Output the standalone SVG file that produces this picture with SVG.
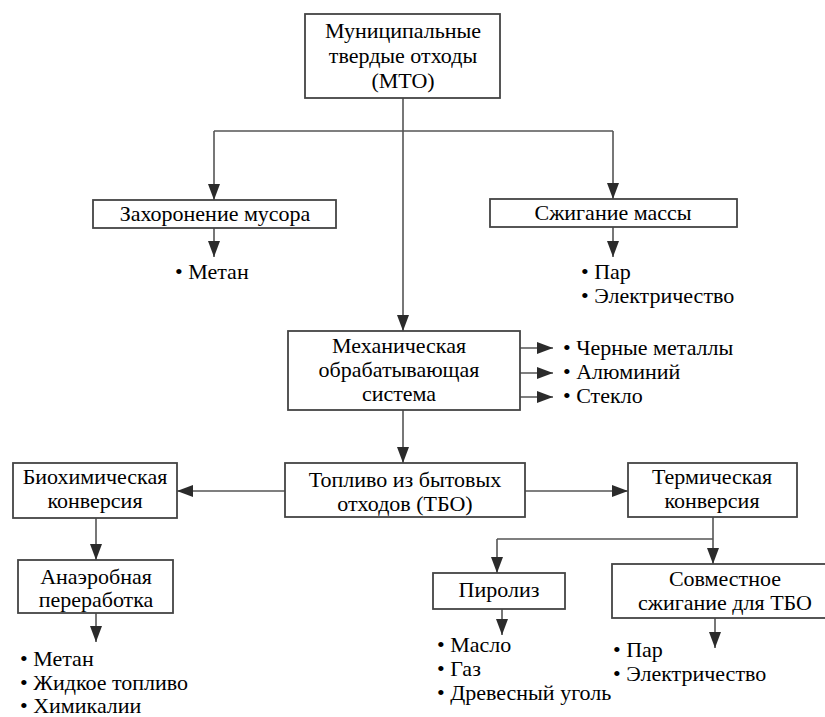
<svg xmlns="http://www.w3.org/2000/svg" width="825" height="717" viewBox="0 0 825 717">
<defs>
<marker id="ah" markerUnits="userSpaceOnUse" markerWidth="16" markerHeight="12" refX="16" refY="6" orient="auto">
<path d="M0,0 L16,6 L0,12 z" fill="#2b2b2b"/>
</marker>
</defs>
<rect width="825" height="717" fill="#fff"/>
<g id="connectors" fill="none" stroke="#555" stroke-width="1.6">
<path marker-end="url(#ah)" d="M403,98 V331"/>
<path d="M214,131 H613"/>
<path marker-end="url(#ah)" d="M214,131 V200"/>
<path marker-end="url(#ah)" d="M613,131 V199"/>
<path marker-end="url(#ah)" d="M214,228 V257"/>
<path marker-end="url(#ah)" d="M613,227 V257"/>
<path marker-end="url(#ah)" d="M513,348 H553"/>
<path marker-end="url(#ah)" d="M513,373 H553"/>
<path marker-end="url(#ah)" d="M513,397 H553"/>
<path marker-end="url(#ah)" d="M403,410 V463"/>
<path marker-end="url(#ah)" d="M285,491 H177"/>
<path marker-end="url(#ah)" d="M525,491 H628"/>
<path marker-end="url(#ah)" d="M96,518 V560"/>
<path marker-end="url(#ah)" d="M96,613 V642"/>
<path marker-end="url(#ah)" d="M713,517 V564"/>
<path d="M713,539 H497"/>
<path marker-end="url(#ah)" d="M497,539 V573"/>
<path marker-end="url(#ah)" d="M502,609 V635"/>
<path marker-end="url(#ah)" d="M715,618 V648"/>
</g>
<g id="mto">
<rect fill="#fff" stroke="#444" stroke-width="1.8" x="305" y="14" width="195" height="84"/>
<text font-family="Liberation Serif" font-size="22" text-anchor="middle" x="403" y="38">Муниципальные</text>
<text font-family="Liberation Serif" font-size="22" text-anchor="middle" x="403" y="63">твердые отходы</text>
<text font-family="Liberation Serif" font-size="22" text-anchor="middle" x="403" y="88">(МТО)</text>
</g>
<g id="landfill">
<rect fill="#fff" stroke="#444" stroke-width="1.8" x="93" y="200" width="243" height="28"/>
<text font-family="Liberation Serif" font-size="22" text-anchor="middle" x="215" y="221">Захоронение мусора</text>
</g>
<g id="landfill-out">
<text font-family="Liberation Serif" font-size="22" x="175" y="279">• Метан</text>
</g>
<g id="massburn">
<rect fill="#fff" stroke="#444" stroke-width="1.8" x="490" y="199" width="247" height="28"/>
<text font-family="Liberation Serif" font-size="22" text-anchor="middle" x="613" y="220">Сжигание массы</text>
</g>
<g id="massburn-out">
<text font-family="Liberation Serif" font-size="22" x="581" y="279">• Пар</text>
<text font-family="Liberation Serif" font-size="22" x="581" y="303">• Электричество</text>
</g>
<g id="mech">
<rect fill="#fff" stroke="#444" stroke-width="1.8" x="288" y="331" width="232" height="79"/>
<text font-family="Liberation Serif" font-size="22" text-anchor="middle" x="399" y="353">Механическая</text>
<text font-family="Liberation Serif" font-size="22" text-anchor="middle" x="399" y="377">обрабатывающая</text>
<text font-family="Liberation Serif" font-size="22" text-anchor="middle" x="399" y="401">система</text>
</g>
<g id="mech-out">
<text font-family="Liberation Serif" font-size="22" x="563" y="355">• Черные металлы</text>
<text font-family="Liberation Serif" font-size="22" x="563" y="379">• Алюминий</text>
<text font-family="Liberation Serif" font-size="22" x="563" y="403">• Стекло</text>
</g>
<g id="rdf">
<rect fill="#fff" stroke="#444" stroke-width="1.8" x="285" y="463" width="240" height="54"/>
<text font-family="Liberation Serif" font-size="22" text-anchor="middle" x="405" y="487">Топливо из бытовых</text>
<text font-family="Liberation Serif" font-size="22" text-anchor="middle" x="405" y="511">отходов (ТБО)</text>
</g>
<g id="biochem">
<rect fill="#fff" stroke="#444" stroke-width="1.8" x="13" y="463" width="164" height="55"/>
<text font-family="Liberation Serif" font-size="22" text-anchor="middle" x="95" y="484">Биохимическая</text>
<text font-family="Liberation Serif" font-size="22" text-anchor="middle" x="95" y="508">конверсия</text>
</g>
<g id="anaerobic">
<rect fill="#fff" stroke="#444" stroke-width="1.8" x="18" y="560" width="155" height="53"/>
<text font-family="Liberation Serif" font-size="22" text-anchor="middle" x="96" y="584">Анаэробная</text>
<text font-family="Liberation Serif" font-size="22" text-anchor="middle" x="96" y="607">переработка</text>
</g>
<g id="anaerobic-out">
<text font-family="Liberation Serif" font-size="22" x="20" y="666">• Метан</text>
<text font-family="Liberation Serif" font-size="22" x="20" y="690">• Жидкое топливо</text>
<text font-family="Liberation Serif" font-size="22" x="20" y="713">• Химикалии</text>
</g>
<g id="thermal">
<rect fill="#fff" stroke="#444" stroke-width="1.8" x="628" y="463" width="169" height="54"/>
<text font-family="Liberation Serif" font-size="22" text-anchor="middle" x="712" y="484">Термическая</text>
<text font-family="Liberation Serif" font-size="22" text-anchor="middle" x="712" y="508">конверсия</text>
</g>
<g id="pyrolysis">
<rect fill="#fff" stroke="#444" stroke-width="1.8" x="433" y="573" width="132" height="36"/>
<text font-family="Liberation Serif" font-size="22" text-anchor="middle" x="499" y="597">Пиролиз</text>
</g>
<g id="pyrolysis-out">
<text font-family="Liberation Serif" font-size="22" x="437" y="652">• Масло</text>
<text font-family="Liberation Serif" font-size="22" x="437" y="676">• Газ</text>
<text font-family="Liberation Serif" font-size="22" x="437" y="700">• Древесный уголь</text>
</g>
<g id="cofiring">
<rect fill="#fff" stroke="#444" stroke-width="1.8" x="612" y="564" width="220" height="54"/>
<text font-family="Liberation Serif" font-size="22" text-anchor="middle" x="725" y="586">Совместное</text>
<text font-family="Liberation Serif" font-size="22" text-anchor="middle" x="725" y="610">сжигание для ТБО</text>
</g>
<g id="cofiring-out">
<text font-family="Liberation Serif" font-size="22" x="613" y="657">• Пар</text>
<text font-family="Liberation Serif" font-size="22" x="613" y="681">• Электричество</text>
</g>
</svg>
